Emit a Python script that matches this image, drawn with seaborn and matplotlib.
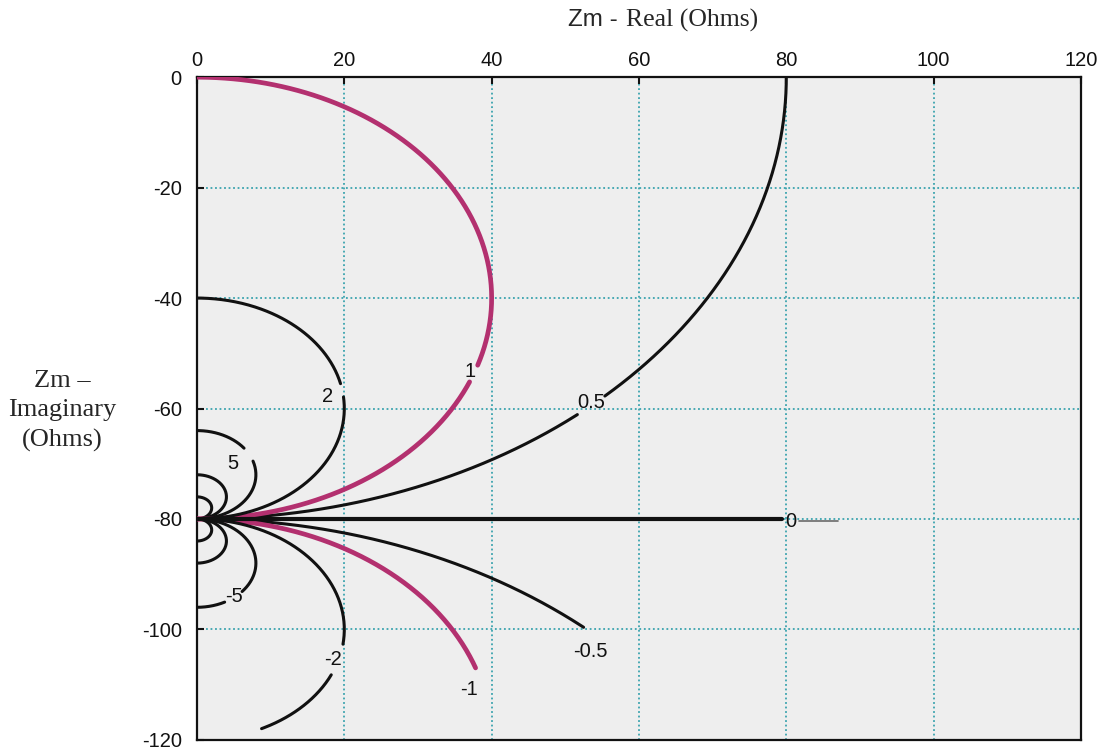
import numpy as np
import pandas as pd
import matplotlib
matplotlib.use("Agg")
import matplotlib.pyplot as plt
import seaborn as sns

# ---- data -------------------------------------------------------------
# Constant-k loci of the magnetising impedance Zm.  Every locus is a circle
# tangent to the line Im = -80 Ohm at the origin, with radius 40/|k|.
levels = [0.5, 1, 2, 5, 10, 20, -0.5, -1, -2, -5, -10, -20]
# sweep of each locus (degrees from the tangent point)
sweep_end = [90, 180, 180, 180, 180, 180, 41, 71, 154, 180, 180, 180]
label_text = ["0.5", "1", "2", "5", None, None, "-0.5", "-1", "-2", "-5", None, None]
# angle where the in-line label sits (None -> label at the end of the locus)
label_angle = [42, 70, 99.5, 117.5, None, None, None, None, 106, 141, None, None]

zero_level_end = 80      # k = 0 locus: straight line along Im = -80
zero_level_tail = 87

x_ticks = [0, 20, 40, 60, 80, 100, 120]
y_ticks = [0, -20, -40, -60, -80, -100, -120]

TANGENT_IM = -80.0
RADIUS_NUM = 40.0

# ---- styling ----------------------------------------------------------
sns.set_style("white")
plt.rcParams["font.family"] = ["Liberation Sans", "DejaVu Sans"]
plt.rcParams["axes.unicode_minus"] = False

BLACK = "#111111"
MAGENTA = "#b3306f"
GRID = "#3aa3ae"

label_gap = {0.5: 1.8, 1: 2.3, 2: 3.5, 5: 9.5, -2: 8.3, -5: 11.0}
label_offset = {0.5: (0, 3), 1: (-4, 2), 2: (-15, -6), 5: (-16, -9),
                -0.5: (7, -24), -1: (-7, -22), -2: (-6, 0), -5: (0, 1)}


def locus(k, a0, a1, n=200):
    """Points on the constant-k circle between sweep angles a0..a1 (deg)."""
    r = RADIUS_NUM / abs(k)
    cy = TANGENT_IM + RADIUS_NUM / k
    phi = np.radians(np.linspace(a0, a1, n))
    x = r * np.sin(phi)
    y = cy - np.sign(k) * r * np.cos(phi)
    return pd.DataFrame({"re": x, "im": y})


def point(k, a):
    d = locus(k, a, a, 1)
    return float(d.re.iloc[0]), float(d.im.iloc[0])


fig = plt.figure(figsize=(11.16, 7.53), dpi=100)
ax = fig.add_axes([0.1765, 0.0175, 0.7921, 0.880])
ax.set_facecolor("#eeeeee")

for k, end, txt, la in zip(levels, sweep_end, label_text, label_angle):
    color = MAGENTA if abs(k) == 1 else BLACK
    lw = 3.4 if abs(k) == 1 else 2.2
    if la is not None:
        g = label_gap[k]
        pieces = [(0, la - g), (la + g, end)]
    else:
        pieces = [(0, end)]
    for a0, a1 in pieces:
        sns.lineplot(data=locus(k, a0, a1), x="re", y="im", sort=False,
                     estimator=None, color=color, linewidth=lw, ax=ax,
                     zorder=3)
    if txt is not None:
        px, py = point(k, la if la is not None else end)
        ax.annotate(txt, (px, py), xytext=label_offset.get(k, (0, 0)),
                    textcoords="offset pixels", ha="center", va="center",
                    fontsize=14.5, color=BLACK, zorder=4)

# k = 0 locus
zero_df = pd.DataFrame({"re": [0, zero_level_end - 0.6], "im": [TANGENT_IM, TANGENT_IM]})
sns.lineplot(data=zero_df, x="re", y="im", sort=False, estimator=None,
             color=BLACK, linewidth=3.0, ax=ax, zorder=3)
tail_df = pd.DataFrame({"re": [zero_level_end + 1.7, zero_level_tail],
                        "im": [TANGENT_IM - 0.4, TANGENT_IM - 0.4]})
sns.lineplot(data=tail_df, x="re", y="im", sort=False, estimator=None,
             color="#6a6a6a", linewidth=1.2, ax=ax, zorder=3)
ax.annotate("0", (zero_level_end + 0.6, TANGENT_IM - 0.4), ha="center",
            va="center", fontsize=14.5, color=BLACK, zorder=4)

# ---- axes -------------------------------------------------------------
ax.set_xlim(x_ticks[0], x_ticks[-1])
ax.set_ylim(y_ticks[-1], y_ticks[0])
ax.set_xticks(x_ticks)
ax.set_xticklabels([str(v) for v in x_ticks])
ax.set_yticks(y_ticks)
ax.set_yticklabels([str(v) for v in y_ticks])
ax.xaxis.tick_top()
ax.tick_params(axis="x", which="both", top=True, bottom=False, direction="in",
               length=5, width=1.5, labelsize=14.5, pad=5, colors=BLACK)
ax.tick_params(axis="y", which="both", left=True, right=False, direction="in",
               length=5, width=1.5, labelsize=14.5, pad=11, colors=BLACK)
ax.set_xlabel("")
ax.set_ylabel("")
for s in ax.spines.values():
    s.set_visible(True)
    s.set_color(BLACK)
    s.set_linewidth(1.6)

ax.grid(True, color=GRID, linestyle=(0, (1, 1.5)), linewidth=1.3, zorder=1)
ax.set_axisbelow(True)

# ---- titles -----------------------------------------------------------
fig.text(568 / 1116, 1 - 20 / 753, "Zm - ", ha="left", va="center",
         fontsize=17.5, family=["Liberation Sans", "DejaVu Sans"])
fig.text(626 / 1116, 1 - 20 / 753, "Real (Ohms)", ha="left", va="center",
         fontsize=18.5, family=["Liberation Serif", "DejaVu Serif"])
fig.text(62 / 1116, 1 - 411 / 753, "Zm \u2013\nImaginary\n(Ohms)", ha="center",
         va="center", fontsize=19, linespacing=1.45,
         family=["Liberation Serif", "DejaVu Serif"])

fig.savefig("out.png", dpi=100)
